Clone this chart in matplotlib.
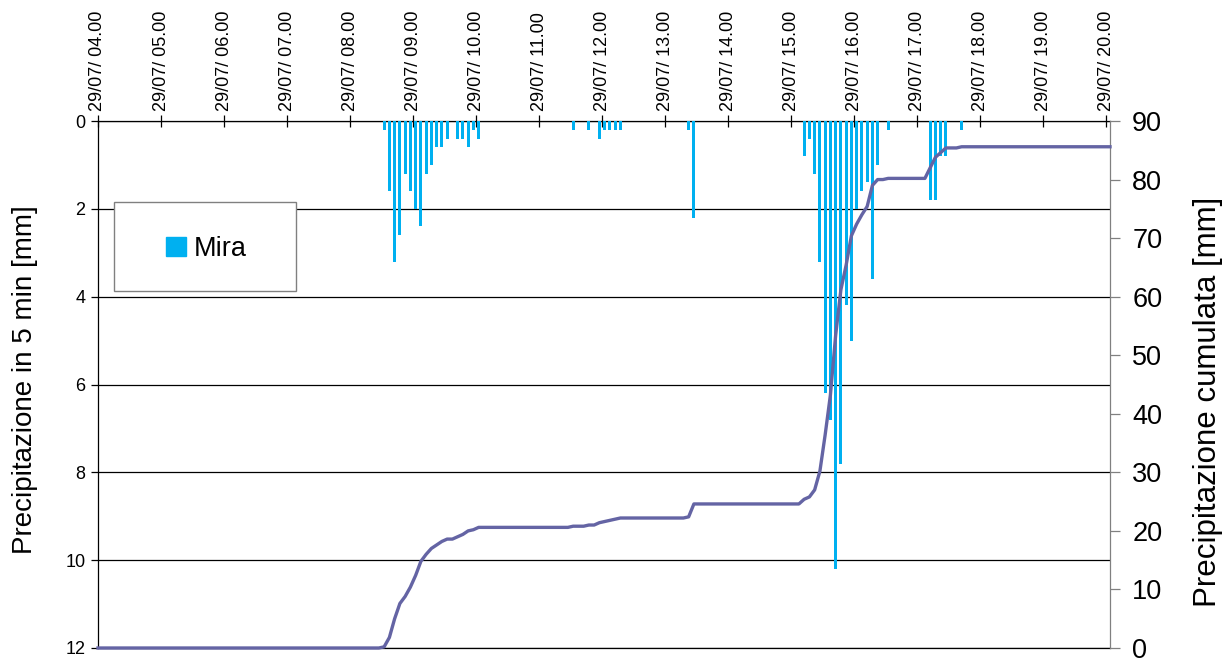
import numpy as np
import matplotlib
matplotlib.use("Agg")
import matplotlib.pyplot as plt
from matplotlib.patches import Rectangle

plt.rcParams['font.family'] = ['Liberation Sans', 'DejaVu Sans']

# 5-min rainfall at Mira on 29/07 (time = end of the 5-min interval), mm
rain_times = ["08:35", "08:40", "08:45", "08:50", "08:55", "09:00", "09:05", "09:10",
              "09:15", "09:20", "09:25", "09:30", "09:35", "09:45", "09:50", "09:55",
              "10:00", "10:05",
              "11:35", "11:50", "12:00", "12:05", "12:10", "12:15", "12:20",
              "13:25", "13:30",
              "15:15", "15:20", "15:25", "15:30", "15:35", "15:40", "15:45", "15:50",
              "15:55", "16:00", "16:05", "16:10", "16:15", "16:20", "16:25", "16:35",
              "17:15", "17:20", "17:25", "17:30", "17:45"]
rain_mm = [0.2, 1.6, 3.2, 2.6, 1.2, 1.6, 2.0, 2.4,
           1.2, 1.0, 0.6, 0.6, 0.4, 0.4, 0.4, 0.6,
           0.2, 0.4,
           0.2, 0.2, 0.4, 0.2, 0.2, 0.2, 0.2,
           0.2, 2.2,
           0.8, 0.4, 1.2, 3.2, 6.2, 6.8, 10.2, 7.8,
           4.2, 5.0, 2.0, 1.6, 1.4, 3.6, 1.0, 0.2,
           1.8, 1.8, 0.8, 0.8, 0.2]

hour_ticks = [4, 5, 6, 7, 8, 9, 10, 11, 12, 13, 14, 15, 16, 17, 18, 19, 20]
hour_labels = ["29/07/ 04.00", "29/07/ 05.00", "29/07/ 06.00", "29/07/ 07.00",
               "29/07/ 08.00", "29/07/ 09.00", "29/07/ 10.00", "29/07/ 11.00",
               "29/07/ 12.00", "29/07/ 13.00", "29/07/ 14.00", "29/07/ 15.00",
               "29/07/ 16.00", "29/07/ 17.00", "29/07/ 18.00", "29/07/ 19.00",
               "29/07/ 20.00"]


def to_hours(s):
    h, m = s.split(":")
    return int(h) + int(m) / 60


step = 5 / 60
x_max = 20.063

# full 5-min series 04:00-20:00 and its cumulative total
ends = np.arange(4 + step, 20 + step / 2, step)
values = np.zeros(len(ends))
for t, v in zip(rain_times, rain_mm):
    values[int(round((to_hours(t) - 4) / step)) - 1] = v
cum = np.cumsum(values)
centers = ends - step / 2

fig = plt.figure(figsize=(12.32, 6.61), dpi=100)
ax = fig.add_axes([98 / 1232, 1 - 648 / 661, 1012 / 1232, 527 / 661])
ax2 = ax.twinx()

bar_x = [to_hours(t) - step / 2 for t in rain_times]
ax.bar(bar_x, rain_mm, width=step * 0.6, color='#00B0F0', zorder=3)

ax.set_xlim(4, x_max)
ax.set_ylim(12, 0)
ax.set_yticks([0, 2, 4, 6, 8, 10, 12])
ax.yaxis.grid(True, color='black', lw=0.9)
ax.set_axisbelow(True)
ax.xaxis.tick_top()
ax.set_xticks(hour_ticks)
ax.set_xticklabels(hour_labels, rotation=90, fontsize=13)
ax.tick_params(axis='x', direction='inout', length=9, width=0.9, pad=3)
ax.tick_params(axis='y', direction='out', length=5, width=0.9, labelsize=13, pad=4)
for s in ['top', 'bottom', 'left']:
    ax.spines[s].set_color('black')
    ax.spines[s].set_linewidth(0.9)
ax.spines['right'].set_visible(False)

line_x = np.r_[4, centers, x_max]
line_y = np.r_[0, cum, cum[-1]]
ax2.plot(line_x, line_y, color='#6464A4', lw=2.4, clip_on=False, zorder=3)
ax2.set_ylim(0, 90)
ax2.set_yticks(range(0, 91, 10))
ax2.tick_params(axis='y', direction='out', length=7, width=0.9, color='#808080',
                labelsize=19.5, pad=9)
for s in ['top', 'bottom', 'left']:
    ax2.spines[s].set_visible(False)
ax2.spines['right'].set_color('#808080')
ax2.spines['right'].set_linewidth(0.9)

fig.text(25 / 1232, 1 - 380 / 661, "Precipitazione in 5 min [mm]", rotation=90,
         ha='center', va='center', fontsize=20)
fig.text(1208 / 1232, 1 - 402 / 661, "Precipitazione cumulata [mm]", rotation=90,
         ha='center', va='center', fontsize=22.5)

# legend box
ax2.add_patch(Rectangle((15.5 / 1012, 357.5 / 527), 182.5 / 1012, 88.5 / 527,
                        transform=ax.transAxes, facecolor='white', edgecolor='#808080',
                        lw=1, zorder=8))
h = Rectangle((0, 0), 1, 1, color='#00B0F0')
leg = ax2.legend([h], ["Mira"], loc='center', bbox_to_anchor=(108.5 / 1012, 399 / 527),
                 frameon=False, fontsize=19.5, handlelength=0.72, handleheight=0.72,
                 handletextpad=0.3)
leg.set_zorder(9)

fig.savefig("out.png", dpi=100)
